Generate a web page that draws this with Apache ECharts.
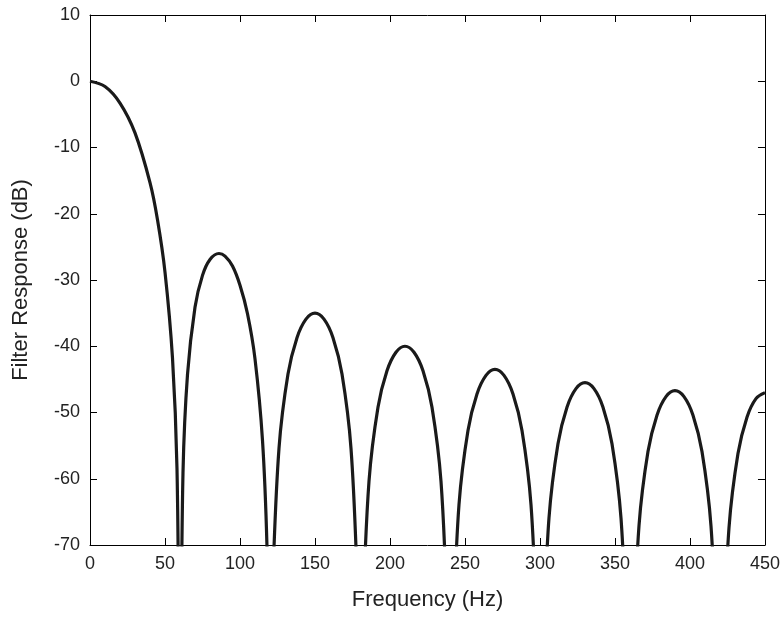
<!DOCTYPE html>
<html><head><meta charset="utf-8">
<script src="https://cdn.jsdelivr.net/npm/echarts@6/dist/echarts.min.js"></script>
<style>html,body{margin:0;background:#fff}#c{width:783px;height:623px}</style>
</head><body><div id="c"></div>
<script>
const freq = [0,10,20,30,40,45,50,55,58,60,
 62,65,70,75,80,86,90,95,100,105,110,115,118,120,
 121.8,126,132,138,144,150,156,162,168,174,178.2,180,
 181.8,186,192,198,204,210,216,222,228,234,238.2,240,
 241.8,246,252,258,264,270,276,282,288,294,298.2,300,
 301.8,306,312,318,324,330,336,342,348,354,358.2,360,
 361.8,366,372,378,384,390,396,402,408,414,418.2,420,
 421.8,426,432,438,444,450];
const response = [0,-0.8,-3.3,-7.8,-15.3,-20.9,-28.8,-41.8,-58.5,-95,
 -59.1,-44.3,-34.1,-29.3,-26.9,-26,-26.4,-27.9,-30.8,-35.1,-41.9,-54.2,-70.3,-95,
 -76,-55.4,-44.2,-38.7,-35.9,-35,-35.9,-38.7,-44.2,-55.4,-76,-95,
 -81,-60.4,-49.2,-43.7,-40.9,-40,-40.9,-43.7,-49.2,-60.4,-81,-95,
 -84.5,-63.9,-52.7,-47.2,-44.4,-43.5,-44.4,-47.2,-52.7,-63.9,-84.5,-95,
 -86.5,-65.9,-54.7,-49.2,-46.4,-45.5,-46.4,-49.2,-54.7,-65.9,-86.5,-95,
 -87.7,-67.1,-55.9,-50.4,-47.6,-46.7,-47.6,-50.4,-55.9,-67.1,-87.7,-95,
 -88,-67.4,-56.2,-50.7,-47.9,-47];
const F = 'Liberation Sans, Arial, sans-serif';
const ax = {onZero:false,lineStyle:{color:'#000',width:1}};
const tk = {inside:true,length:7,lineStyle:{color:'#000'}};
const chart = echarts.init(document.getElementById('c'));
chart.setOption({
 animation:false,
 grid:{left:90,right:18,top:15,bottom:78},
 xAxis:[{type:'value',min:0,max:450,interval:50,name:'Frequency (Hz)',nameLocation:'middle',nameGap:44,
   nameTextStyle:{fontFamily:F,fontSize:22,color:'#222'},axisLine:ax,axisTick:tk,
   axisLabel:{fontFamily:F,fontSize:18,color:'#222',margin:10},splitLine:{show:false}},
  {type:'value',position:'top',min:0,max:450,interval:50,axisLine:ax,axisTick:tk,axisLabel:{show:false},splitLine:{show:false}}],
 yAxis:[{type:'value',min:-70,max:10,interval:10,name:'Filter Response (dB)',nameLocation:'middle',nameGap:58,
   nameTextStyle:{fontFamily:F,fontSize:22,color:'#222'},axisLine:ax,axisTick:tk,
   axisLabel:{fontFamily:F,fontSize:18,color:'#222',margin:10},splitLine:{show:false}},
  {type:'value',position:'right',min:-70,max:10,interval:10,axisLine:ax,axisTick:tk,axisLabel:{show:false},splitLine:{show:false}}],
 series:[{type:'line',data:freq.map((f,i)=>[f,response[i]]),showSymbol:false,smooth:0.35,clip:true,
   lineStyle:{color:'#1a1a1a',width:3.2}}]
});
</script></body></html>
